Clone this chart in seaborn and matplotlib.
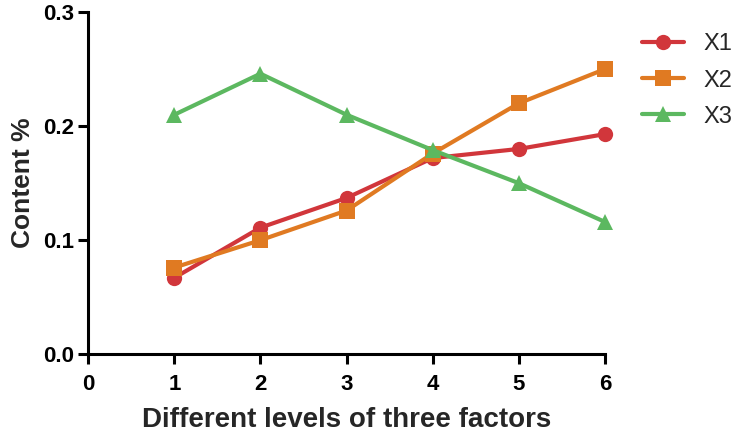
import pandas as pd
import matplotlib
matplotlib.use("Agg")
import matplotlib.pyplot as plt
import seaborn as sns

levels = [1, 2, 3, 4, 5, 6]
x1 = [0.067, 0.111, 0.137, 0.172, 0.180, 0.193]
x2 = [0.076, 0.100, 0.126, 0.176, 0.220, 0.250]
x3 = [0.210, 0.246, 0.210, 0.179, 0.150, 0.116]

df = pd.DataFrame({
    "level": levels * 3,
    "content": x1 + x2 + x3,
    "series": ["X1"] * 6 + ["X2"] * 6 + ["X3"] * 6,
})

sns.set_style("ticks")
plt.rcParams["font.family"] = ["Liberation Sans", "DejaVu Sans"]

fig = plt.figure(figsize=(7.35, 4.33), dpi=100)
ax = fig.add_axes([0.12, 0.182, 0.703, 0.79])

colors = {"X1": "#d1363b", "X2": "#e07a22", "X3": "#5cb860"}
sns.lineplot(data=df, x="level", y="content", hue="series", style="series",
             palette=colors, markers={"X1": "o", "X2": "s", "X3": "^"},
             dashes=False, linewidth=3, markersize=11, markeredgewidth=0, ax=ax)
for ln in ax.lines:
    ln.set_clip_on(False)

ax.set_xlim(0, 6)
ax.set_ylim(0, 0.3)
ax.set_xticks(range(7))
ax.set_yticks([0.0, 0.1, 0.2, 0.3])
ax.set_yticklabels(["0.0", "0.1", "0.2", "0.3"])
for s in ["top", "right"]:
    ax.spines[s].set_visible(False)
for s in ["left", "bottom"]:
    ax.spines[s].set_linewidth(2.2)
    ax.spines[s].set_color("black")
ax.tick_params(width=2.2, length=7, labelsize=16, colors="black")
ax.tick_params(axis="x", pad=7)
ax.tick_params(axis="y", pad=3)
for lbl in ax.get_xticklabels() + ax.get_yticklabels():
    lbl.set_fontweight("bold")

ax.set_xlabel("Different levels of three factors", fontsize=20, fontweight="bold", labelpad=9)
ax.set_ylabel("Content %", fontsize=19, fontweight="bold", labelpad=6)

ax.legend(loc="upper left", bbox_to_anchor=(1.03, 1.0), frameon=False,
          fontsize=17, handlelength=1.8, labelspacing=0.6)

fig.savefig("out.png", dpi=100)
